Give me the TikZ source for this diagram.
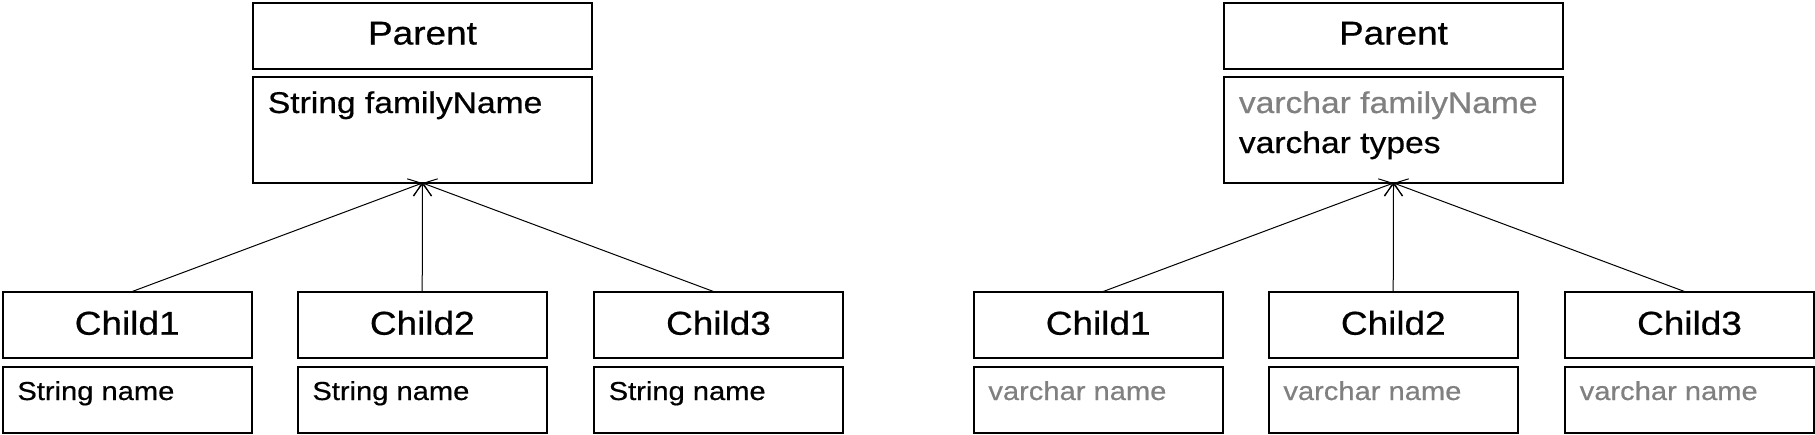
\documentclass[tikz,border=0pt]{standalone}
\usepackage{fontspec}
\setmainfont{Liberation Sans}[FakeStretch=1.12, FakeBold=0.6]
\usetikzlibrary{arrows.meta}
\definecolor{attrgray}{RGB}{128,128,128}
\tikzset{
  umlbox/.style={draw=black, line width=2pt, rectangle, inner sep=0pt, outer sep=0pt, anchor=north west},
  titlebox/.style={umlbox, minimum width=339.6pt, minimum height=66.3pt},
  pattrbox/.style={umlbox, minimum width=339.6pt, minimum height=106.3pt},
  childbox/.style={umlbox, minimum width=249pt, minimum height=66pt},
  titletext/.style={anchor=base, inner sep=0pt, font=\fontsize{33pt}{33pt}\selectfont},
  pattr/.style={anchor=base west, inner sep=0pt, font=\fontsize{30pt}{30pt}\selectfont},
  cattr/.style={anchor=base west, inner sep=0pt, font=\fontsize{26pt}{26pt}\selectfont},
  inherit/.style={line width=1pt, -{Straight Barb[length=12pt, width=18.5pt]}},
}
\begin{document}
\begin{tikzpicture}[x=1pt,y=-1pt]
\useasboundingbox (0,0) rectangle (1815,434);
% ---------------- left diagram ----------------
\node[titlebox] (lp) at (252.7,2.7) {};
\node[pattrbox] (lpa) at (252.7,76.7) {};
\node[titletext] (lpt) at (422.5,44.5) {Parent};
\node[pattr] (lpa1) at (267.7,113) {String familyName};

\node[childbox] (lc1) at (2.7,291.7) {};
\node[childbox] (lc2) at (297.7,291.7) {};
\node[childbox] (lc3) at (594,291.7) {};
\node[childbox] (lc1a) at (2.7,367.3) {};
\node[childbox] (lc2a) at (297.7,367.3) {};
\node[childbox] (lc3a) at (594,367.3) {};
\node[titletext] (lc1t) at (127.2,334.7) {Child1};
\node[titletext] (lc2t) at (422.3,334.7) {Child2};
\node[titletext] (lc3t) at (718.5,334.7) {Child3};
\node[cattr] (lc1n) at (17.2,400) {String name};
\node[cattr] (lc2n) at (312.2,400) {String name};
\node[cattr] (lc3n) at (608.5,400) {String name};

\draw[inherit] ([xshift=4.5pt]lc1.north) -- (lpa.south);
\draw[inherit] (lc2.north) -- (lpa.south);
\draw[inherit] ([xshift=-4.5pt]lc3.north) -- (lpa.south);

% ---------------- right diagram ----------------
\begin{scope}[xshift=971pt]
\node[titlebox] (rp) at (252.7,2.7) {};
\node[pattrbox] (rpa) at (252.7,76.7) {};
\node[titletext] (rpt) at (422.5,44.5) {Parent};
\node[pattr, text=attrgray] (rpa1) at (267.7,113) {varchar familyName};
\node[pattr] (rpa2) at (267.7,153) {varchar types};

\node[childbox] (rc1) at (2.7,291.7) {};
\node[childbox] (rc2) at (297.7,291.7) {};
\node[childbox] (rc3) at (594,291.7) {};
\node[childbox] (rc1a) at (2.7,367.3) {};
\node[childbox] (rc2a) at (297.7,367.3) {};
\node[childbox] (rc3a) at (594,367.3) {};
\node[titletext] (rc1t) at (127.2,334.7) {Child1};
\node[titletext] (rc2t) at (422.3,334.7) {Child2};
\node[titletext] (rc3t) at (718.5,334.7) {Child3};
\node[cattr, text=attrgray] (rc1n) at (17.2,400) {varchar name};
\node[cattr, text=attrgray] (rc2n) at (312.2,400) {varchar name};
\node[cattr, text=attrgray] (rc3n) at (608.5,400) {varchar name};

\draw[inherit] ([xshift=4.5pt]rc1.north) -- (rpa.south);
\draw[inherit] (rc2.north) -- (rpa.south);
\draw[inherit] ([xshift=-4.5pt]rc3.north) -- (rpa.south);
\end{scope}
\end{tikzpicture}
\end{document}
